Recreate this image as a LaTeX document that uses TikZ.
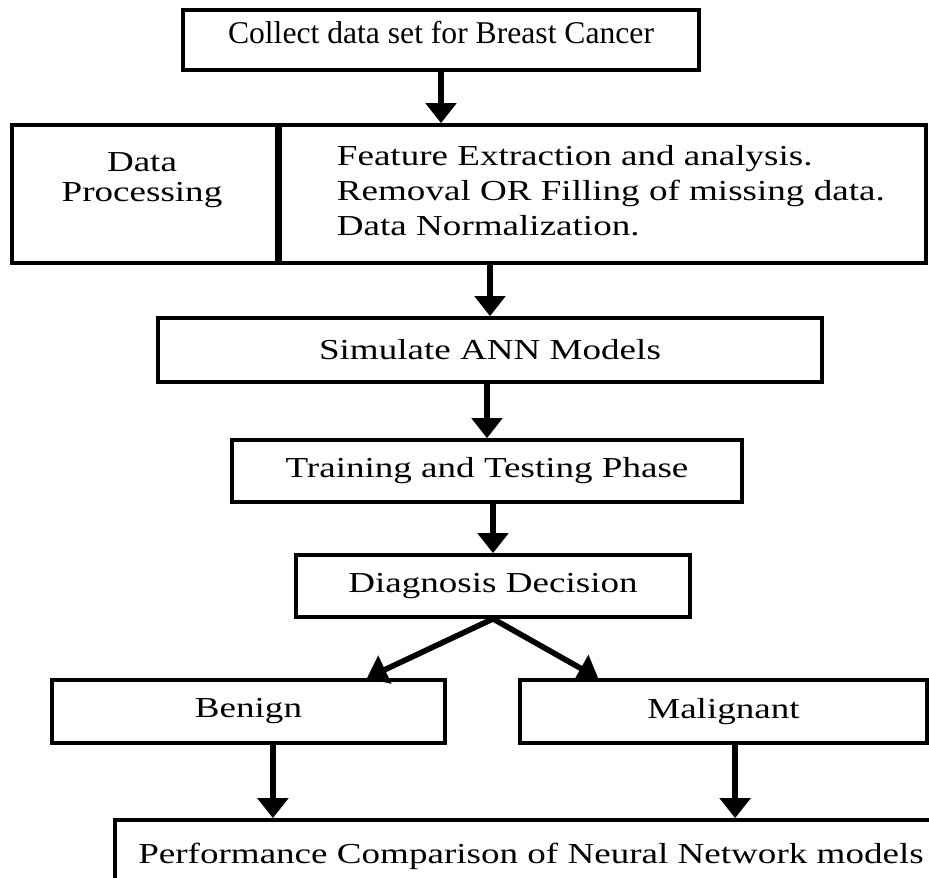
\documentclass[tikz,border=0pt]{standalone}
\usepackage{fontspec}
\setmainfont[FakeStretch=1.28]{Liberation Serif}
\newfontfamily\titlefont{Liberation Serif}
\usetikzlibrary{positioning,arrows.meta}
\newcommand{\flowfont}{\fontsize{20.6}{24.9}\selectfont}

\begin{document}
\begin{tikzpicture}[
 box/.style={draw,line width=2.6pt,inner sep=0pt,font=\flowfont},
 arr/.style={-{Triangle[length=5mm,width=7.5mm]},line width=4pt}]
\useasboundingbox (0,0) rectangle (23.225,21.925);
% main chain of steps
\node[box,minimum width=12.9cm,minimum height=1.5cm,text depth=0.4cm,font=\titlefont\fontsize{22.5}{27}\selectfont] (collect) at (11.025,20.925) {Collect data set for Breast Cancer};
\node[box,minimum width=6.625cm,minimum height=3.45cm] (dp) at (3.6125,17.075) {};
\node[font=\fontsize{20.6}{21.3}\selectfont,align=center] (dptext) at (3.55,17.41) {Data\\Processing};
\node[box,minimum width=16.225cm,minimum height=3.45cm] (steps) at (15.0375,17.075) {};
\node[font=\flowfont,align=left,anchor=west] (stepstext) at (8.3,17.15)
 {Feature Extraction and analysis.\\Removal OR Filling of missing data.\\Data Normalization.};
\draw[line width=5pt] (dp.north east) -- (dp.south east);
\node[box,minimum width=16.6cm,minimum height=1.6cm] (sim) at (12.25,13.175) {Simulate ANN Models};
\node[box,minimum width=12.75cm,minimum height=1.55cm] (train) at (12.175,10.15) {Training and Testing Phase};
\node[box,minimum width=9.85cm,minimum height=1.55cm] (diag) at (12.325,7.275) {Diagnosis Decision};
% the two outcomes
\node[box,minimum width=9.825cm,minimum height=1.575cm] (benign) at (6.2125,4.1375) {Benign};
\node[box,minimum width=10.175cm,minimum height=1.575cm] (malig) at (18.0875,4.1375) {Malignant};
\node[box,minimum width=20.8cm,minimum height=1.8cm] (perf) at (13.275,0.525) {Performance Comparison of Neural Network models};
% arrows
\draw[arr] (collect.south) -- (collect.south |- steps.north);
\draw[arr] (sim.north |- steps.south) -- (sim.north);
\draw[arr] (train.north |- sim.south) -- (train.north);
\draw[arr] (diag.north |- train.south) -- (diag.north);
\draw[arr] (diag.south) -- ([xshift=-2cm]benign.north east);
\draw[arr] (diag.south) -- ([xshift=2cm]malig.north west);
\draw[arr] ([xshift=0.61cm]benign.south) -- ([xshift=0.61cm]benign.south |- perf.north);
\draw[arr] ([xshift=0.29cm]malig.south) -- ([xshift=0.29cm]malig.south |- perf.north);
\end{tikzpicture}
\end{document}
